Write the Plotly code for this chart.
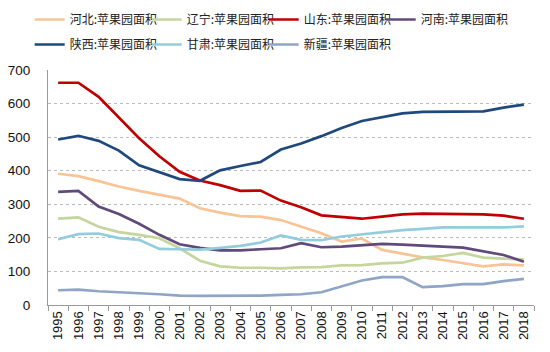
import plotly.graph_objects as go

years = [str(y) for y in range(1995, 2019)]

hebei = [391, 384, 369, 353, 340, 328, 317, 288, 275, 265, 263, 253, 233, 214, 189, 198, 164, 152, 142, 134, 125, 115, 121, 118]
liaoning = [257, 261, 233, 217, 209, 199, 169, 132, 115, 111, 111, 109, 112, 113, 118, 119, 124, 126, 141, 146, 155, 141, 138, 136]
shandong = [662, 662, 620, 557, 497, 443, 397, 371, 357, 340, 341, 311, 291, 267, 261, 257, 263, 270, 272, 272, 270, 270, 266, 257]
henan = [337, 340, 293, 271, 242, 209, 181, 170, 163, 163, 166, 169, 184, 172, 174, 177, 182, 180, 178, 174, 171, 159, 149, 129]
shaanxi = [493, 504, 489, 460, 416, 396, 375, 370, 401, 414, 426, 463, 481, 503, 527, 548, 560, 571, 575, 576, 576, 577, 588, 597]
gansu = [196, 211, 213, 199, 194, 167, 166, 165, 170, 176, 186, 207, 194, 193, 204, 211, 216, 223, 227, 231, 231, 231, 231, 234]
xinjiang = [44, 46, 41, 39, 35, 32, 28, 27, 27, 27, 28, 30, 32, 38, 56, 73, 83, 83, 53, 56, 62, 62, 71, 78]

names = ["河北:苹果园面积", "辽宁:苹果园面积", "山东:苹果园面积", "河南:苹果园面积",
         "陕西:苹果园面积", "甘肃:苹果园面积", "新疆:苹果园面积"]
series = [hebei, liaoning, shandong, henan, shaanxi, gansu, xinjiang]
colors = ["#F8C496", "#C3D69B", "#C00000", "#604A7B", "#1F497D", "#93CDDD", "#8EA5C6"]
legend_ids = ["legend", "legend", "legend", "legend", "legend2", "legend2", "legend2"]
yticks = [0, 100, 200, 300, 400, 500, 600, 700]

fig = go.Figure()
for i, (n, s, c, lg) in enumerate(zip(names, series, colors, legend_ids)):
    last = (i == 3 or i == 6)
    fig.add_trace(go.Scatter(x=years, y=s, name=n, mode="lines", legend=lg,
                             legendwidth=89 if last else 72,
                             line=dict(color=c, width=2.7)))

leg_common = dict(orientation="h", xref="paper", yref="paper",
                  xanchor="left", yanchor="top",
                  entrywidthmode="pixels",
                  font=dict(size=12, color="#222"), bgcolor="rgba(0,0,0,0)")

fig.update_layout(
    width=550, height=352,
    margin=dict(l=48, r=16, t=70, b=47, autoexpand=False),
    paper_bgcolor="white", plot_bgcolor="white",
    font=dict(family="Noto Sans CJK SC, Liberation Sans, sans-serif", size=12, color="#222"),
    legend=dict(x=-0.0377, y=1.2766, **leg_common),
    legend2=dict(x=-0.0377, y=1.1702, **leg_common),
    showlegend=True,
)
fig.update_xaxes(type="category", tickson="boundaries", ticks="outside", ticklen=5,
                 tickcolor="#999", showline=True, linecolor="#999", linewidth=1,
                 tickangle=-90, showgrid=False, range=[-0.5, 23.5],
                 tickfont=dict(family="Liberation Sans, Arial", size=13, color="#111"))
fig.update_yaxes(range=[0, 700], tickvals=yticks, showline=True, linecolor="#999",
                 linewidth=1, ticks="", ticklabelstandoff=14,
                 showgrid=True, gridcolor="#BBBBBB", griddash="dot", gridwidth=1,
                 zeroline=False,
                 tickfont=dict(family="Liberation Sans, Arial", size=13.5, color="#111"))

fig.write_html("out.html")
